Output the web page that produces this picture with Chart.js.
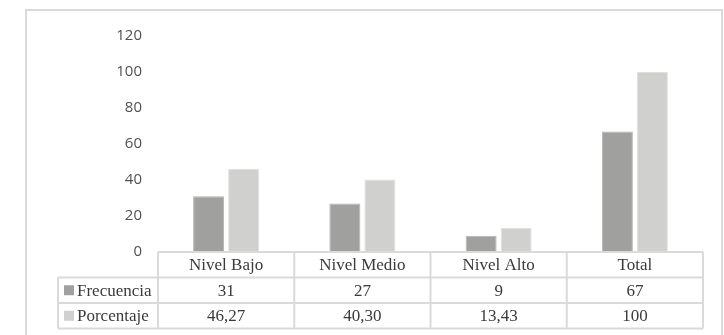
<!DOCTYPE html>
<html>
<head>
<meta charset="utf-8">
<script src="https://cdn.jsdelivr.net/npm/chart.js@4.4.1/dist/chart.umd.min.js"></script>
<style>
  html, body { margin: 0; padding: 0; background: #ffffff; }
  #wrap { width: 724px; height: 335px; position: relative; }
</style>
</head>
<body>
<div id="wrap"><canvas id="chart" width="724" height="335"></canvas></div>
<script>
// Categories and series
const categories = ['Nivel Bajo', 'Nivel Medio', 'Nivel Alto', 'Total'];
const frecuencia = [31, 27, 9, 67];
const porcentaje = [46.27, 40.30, 13.43, 100];
// Text shown in the data table under the plot
const frecuenciaLabels = ['31', '27', '9', '67'];
const porcentajeLabels = ['46,27', '40,30', '13,43', '100'];
const yTicks = [0, 20, 40, 60, 80, 100, 120];

const seriesNames = ['Frecuencia', 'Porcentaje'];
const darkFill = '#a0a09f';
const lightFill = '#d0d0ce';
const lineColor = '#dadada';
const serifFont = '17px "Liberation Serif", "Times New Roman", serif';

// White page with a thin frame around the whole figure
const framePlugin = {
  id: 'frame',
  beforeDraw(chart) {
    const ctx = chart.ctx;
    ctx.save();
    ctx.fillStyle = '#ffffff';
    ctx.fillRect(0, 0, chart.width, chart.height);
    ctx.strokeStyle = lineColor;
    ctx.lineWidth = 2;
    ctx.strokeRect(26, 10, 696, 340);
    ctx.restore();
  }
};

// Data table drawn under the category axis, aligned with the x scale
const dataTablePlugin = {
  id: 'dataTable',
  afterDraw(chart) {
    const ctx = chart.ctx;
    const x = chart.scales.x;
    const area = chart.chartArea;
    const n = categories.length;
    const colW = (area.right - area.left) / n;
    const rowH = 25.5;
    const top = area.bottom;
    const rows = [top, top + rowH, top + 2 * rowH, top + 3 * rowH];
    const legendLeft = 58;

    ctx.save();
    ctx.strokeStyle = lineColor;
    ctx.lineWidth = 2;
    ctx.beginPath();
    // horizontal lines
    ctx.moveTo(area.left, rows[0]); ctx.lineTo(area.right, rows[0]);
    for (let r = 1; r < rows.length; r++) {
      ctx.moveTo(legendLeft, rows[r]); ctx.lineTo(area.right, rows[r]);
    }
    // vertical lines
    ctx.moveTo(area.left, rows[0]); ctx.lineTo(area.left, rows[3]);
    ctx.moveTo(legendLeft, rows[1]); ctx.lineTo(legendLeft, rows[3]);
    for (let i = 1; i <= n; i++) {
      const px = area.left + colW * i;
      ctx.moveTo(px, rows[0]); ctx.lineTo(px, rows[3]);
    }
    ctx.stroke();

    ctx.font = serifFont;
    ctx.fillStyle = '#3a3a3a';
    ctx.textBaseline = 'middle';
    ctx.textAlign = 'center';
    for (let i = 0; i < n; i++) {
      const cx = x.getPixelForValue(i);
      ctx.fillText(categories[i], cx, (rows[0] + rows[1]) / 2 + 1);
      ctx.fillText(frecuenciaLabels[i], cx, (rows[1] + rows[2]) / 2 + 1);
      ctx.fillText(porcentajeLabels[i], cx, (rows[2] + rows[3]) / 2 + 1);
    }

    // legend keys with series names
    const fills = [darkFill, lightFill];
    ctx.textAlign = 'left';
    for (let s = 0; s < 2; s++) {
      const cy = (rows[s + 1] + rows[s + 2]) / 2;
      ctx.fillStyle = fills[s];
      ctx.fillRect(64, cy - 5, 10, 10);
      ctx.fillStyle = '#3a3a3a';
      ctx.fillText(seriesNames[s], 77, cy + 1);
    }
    ctx.restore();
  }
};

new Chart(document.getElementById('chart'), {
  type: 'bar',
  data: {
    labels: categories,
    datasets: [
      {
        label: seriesNames[0],
        data: frecuencia,
        backgroundColor: darkFill,
        borderColor: '#b4b4b2',
        borderWidth: 1,
        categoryPercentage: 0.514,
        barPercentage: 0.886
      },
      {
        label: seriesNames[1],
        data: porcentaje,
        backgroundColor: lightFill,
        borderColor: '#e0e0de',
        borderWidth: 1,
        categoryPercentage: 0.514,
        barPercentage: 0.886
      }
    ]
  },
  options: {
    responsive: false,
    animation: false,
    devicePixelRatio: 1,
    layout: { padding: { left: 0, right: 21, top: 36, bottom: 83 } },
    plugins: {
      legend: { display: false },
      tooltip: { enabled: false },
      title: { display: false }
    },
    scales: {
      x: {
        display: false
      },
      y: {
        min: 0,
        max: 120,
        afterBuildTicks(scale) {
          scale.ticks = yTicks.map(v => ({ value: v }));
        },
        afterFit(scale) { scale.width = 158; },
        grid: { display: false, drawTicks: false },
        border: { display: false },
        ticks: {
          padding: 16,
          color: '#505050',
          font: { family: '"Open Sans", "Liberation Sans", Arial, sans-serif', size: 15 }
        }
      }
    }
  },
  plugins: [framePlugin, dataTablePlugin]
});
</script>
</body>
</html>
